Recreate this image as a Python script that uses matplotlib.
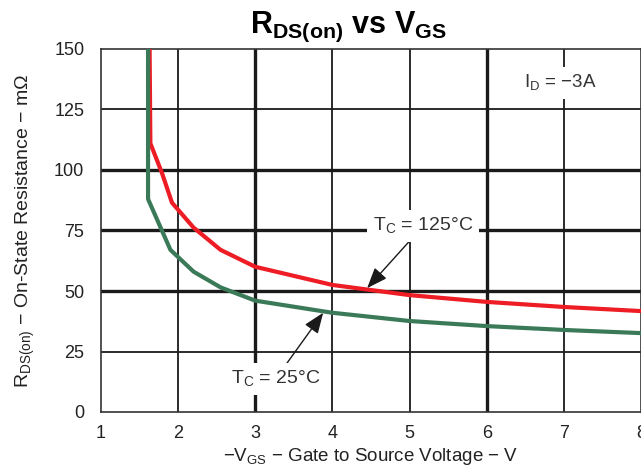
import matplotlib.pyplot as plt

plt.rcParams['font.family'] = ['Liberation Sans', 'DejaVu Sans']
plt.rcParams['mathtext.fontset'] = 'custom'
plt.rcParams['mathtext.rm'] = 'Liberation Sans'
plt.rcParams['mathtext.bf'] = 'Liberation Sans:bold'

vgs_25 = [1.61, 1.61, 1.9, 2.2, 2.55, 3.0, 4.0, 5.0, 6.0, 7.0, 8.0]
rds_25 = [150, 88, 67, 58, 51.5, 46, 41, 37.6, 35.5, 33.9, 32.6]

vgs_125 = [1.63, 1.64, 1.79, 1.92, 2.2, 2.55, 3.0, 4.0, 5.0, 6.0, 7.0, 8.0]
rds_125 = [150, 111, 98.8, 86.5, 76.2, 67, 60, 52.5, 48.3, 45.5, 43.4, 41.7]

x_ticks = [1, 2, 3, 4, 5, 6, 7, 8]
y_ticks = [0, 25, 50, 75, 100, 125, 150]

fig = plt.figure(figsize=(6.41, 4.66), dpi=100)
ax = fig.add_axes([101 / 641, 1 - 412 / 466, 1 - 101 / 641, (412 - 49) / 466])

# Gitter: dicke und dünne Linien
for x in x_ticks[1:-1]:
    lw = 2.4 if x in (3, 6) else 1.3
    ax.axvline(x, color='#1a1a1a', lw=lw, zorder=1)
for y in y_ticks[1:-1]:
    lw = 2.4 if y in (50, 75, 100) else 1.3
    ax.axhline(y, color='#1a1a1a', lw=lw, zorder=1)

ax.plot(vgs_125, rds_125, color='#ee1c24', lw=3.0, zorder=3)
ax.plot(vgs_25, rds_25, color='#3b7a58', lw=3.0, zorder=4)

ax.set_xlim(1, 8)
ax.set_ylim(0, 150)
ax.set_xticks(x_ticks)
ax.set_yticks(y_ticks)
ax.tick_params(length=0, labelsize=13, colors='#222222')
ax.tick_params(axis='x', pad=9)
ax.tick_params(axis='y', pad=12)
for s in ax.spines.values():
    s.set_linewidth(1.2)
    s.set_color('#333333')

ax.set_xlabel(r'$-$V$_\mathregular{GS}$ $-$ Gate to Source Voltage $-$ V',
              fontsize=13.5, labelpad=3, color='#222222')
ax.set_ylabel(r'R$_\mathregular{DS(on)}$ $-$ On-State Resistance $-$ m$\Omega$',
              fontsize=14, labelpad=12, color='#222222')
fig.text(0.543, 0.942, r'$\mathbf{R_{DS(on)}}$ $\mathbf{vs}$ $\mathbf{V_{GS}}$',
         ha='center', va='center', fontsize=22)

box = dict(boxstyle='square,pad=0.3', fc='white', ec='none')
arrow = dict(arrowstyle='-|>,head_length=0.9,head_width=0.35', color='#1a1a1a', lw=1.0,
             shrinkA=0, shrinkB=0)
ax.annotate(r'T$_\mathregular{C}$ = 125°C', xy=(4.45, 51.2), xytext=(5.18, 77),
            ha='center', va='center', fontsize=14, color='#333333',
            bbox=box, arrowprops=arrow, zorder=6)
ax.annotate(r'T$_\mathregular{C}$ = 25°C', xy=(3.88, 41), xytext=(3.26, 13.5),
            ha='center', va='center', fontsize=14, color='#333333',
            bbox=box, arrowprops=arrow, zorder=6)
ax.text(6.96, 136, r'I$_\mathregular{D}$ = $-$3A', ha='center', va='center',
        fontsize=13.5, color='#333333', bbox=box, zorder=6)

fig.savefig('out.png', dpi=100)
